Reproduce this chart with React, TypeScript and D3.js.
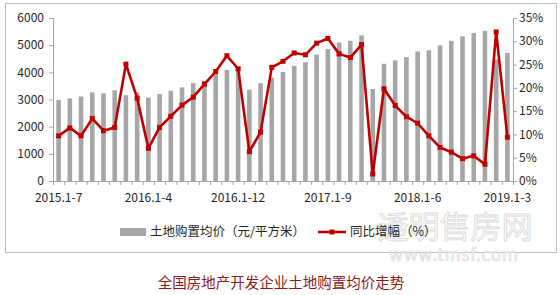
import React from "react";
import * as d3 from "d3";

const categories = [
  "2015.1-7", "2015.1-8", "2015.1-9", "2015.1-10", "2015.1-11", "2015.1-12",
  "2016.1-2", "2016.1-3", "2016.1-4", "2016.1-5", "2016.1-6", "2016.1-7", "2016.1-8", "2016.1-9", "2016.1-10", "2016.1-11", "2016.1-12",
  "2017.1-2", "2017.1-3", "2017.1-4", "2017.1-5", "2017.1-6", "2017.1-7", "2017.1-8", "2017.1-9", "2017.1-10", "2017.1-11", "2017.1-12",
  "2018.1-2", "2018.1-3", "2018.1-4", "2018.1-5", "2018.1-6", "2018.1-7", "2018.1-8", "2018.1-9", "2018.1-10", "2018.1-11", "2018.1-12",
  "2019.1-2", "2019.1-3",
];

const avgPrice = [
  2980, 3040, 3110, 3260, 3230, 3340,
  3160, 3260, 3070, 3200, 3320, 3445, 3600, 3690, 3990, 4090, 4120,
  3360, 3600, 3810, 4010, 4240, 4375, 4650, 4860, 5100, 5160, 5360,
  3385, 4315, 4440, 4560, 4770, 4810, 4990, 5160, 5325, 5445, 5530,
  4470, 4715,
];

const yoyGrowth = [
  9.7, 11.4, 9.7, 13.4, 10.8, 11.5,
  25.1, 17.8, 7.0, 11.5, 13.9, 16.3, 18.0, 20.8, 23.5, 26.9, 24.1,
  6.3, 10.5, 24.4, 25.7, 27.5, 27.1, 29.6, 30.6, 27.3, 26.5, 29.3,
  1.5, 19.8, 16.2, 13.8, 12.4, 9.7, 7.2, 6.2, 4.8, 5.4, 3.6,
  32.0, 9.4,
];

const leftTicks = [0, 1000, 2000, 3000, 4000, 5000, 6000];
const rightTicks = [0, 5, 10, 15, 20, 25, 30, 35];
const shownLabels = ["2015.1-7", "2016.1-4", "2016.1-12", "2017.1-9", "2018.1-6", "2019.1-3"];

const seriesNames = ["土地购置均价（元/平方米）", "同比增幅（%）"];
const title = "全国房地产开发企业土地购置均价走势";

const FONT = "'Noto Sans CJK SC', 'Microsoft YaHei', sans-serif";
const AXIS = "#a6a6a6";
const BAR = "#a6a6a6";
const RED = "#c00000";

export default function App() {
  const left = 53, right = 513, top = 18, bottom = 181;
  const x = d3.scaleBand<string>().domain(categories).range([left, right]).paddingInner(0).paddingOuter(0);
  const yL = d3.scaleLinear().domain([0, 6000]).range([bottom, top]);
  const yR = d3.scaleLinear().domain([0, 35]).range([bottom, top]);
  const bw = 4.6;
  const cx = (c: string) => (x(c) as number) + x.bandwidth() / 2;

  const line = d3
    .line<number>()
    .x((_, i) => cx(categories[i]))
    .y((d) => yR(d));

  const boundaries = d3.range(categories.length + 1).map((i) => left + i * x.bandwidth());

  return (
    <svg
      width={560}
      height={295}
      style={{ position: "absolute", left: 0, top: 0, background: "#fff" }}
      fontFamily={FONT}
    >
      <rect x={5.5} y={3.5} width={551} height={249} fill="none" stroke="#bfbfbf" strokeWidth={1} />

      {/* watermark */}
      <g opacity={0.9}>
        <text x={455} y={238} textAnchor="middle" fontSize={31} fill="#fafafa" stroke="#d6d6d6" strokeWidth={0.8}>
          透明售房网
        </text>
        <text x={454} y={261} textAnchor="middle" fontSize={17} fill="#fafafa" stroke="#d6d6d6" strokeWidth={0.7} letterSpacing={1}>
          www.tmsf.com
        </text>
      </g>

      {/* bars */}
      {avgPrice.map((v, i) => (
        <rect
          key={i}
          x={cx(categories[i]) - bw / 2}
          y={yL(v)}
          width={bw}
          height={bottom - yL(v)}
          fill={BAR}
        />
      ))}

      {/* left axis */}
      <line x1={left + 0.5} x2={left + 0.5} y1={top} y2={bottom} stroke={AXIS} />
      {leftTicks.map((t) => (
        <g key={t}>
          <line x1={left - 4} x2={left} y1={yL(t) + 0.5} y2={yL(t) + 0.5} stroke={AXIS} />
          <text x={44} y={yL(t)} dy="0.35em" textAnchor="end" fontSize={12} fill="#262626">
            {t}
          </text>
        </g>
      ))}

      {/* right axis */}
      <line x1={right + 0.5} x2={right + 0.5} y1={top} y2={bottom} stroke={AXIS} />
      {rightTicks.map((t) => (
        <g key={t}>
          <line x1={right} x2={right + 4} y1={yR(t) + 0.5} y2={yR(t) + 0.5} stroke={AXIS} />
          <text x={519} y={yR(t)} dy="0.35em" textAnchor="start" fontSize={12} fill="#262626">
            {t}%
          </text>
        </g>
      ))}

      {/* x axis */}
      <line x1={left} x2={right} y1={bottom + 0.5} y2={bottom + 0.5} stroke={AXIS} />
      {boundaries.map((b, i) => (
        <line key={i} x1={b + 0.5} x2={b + 0.5} y1={bottom} y2={bottom + 4} stroke={AXIS} />
      ))}
      {shownLabels.map((c) => (
        <text key={c} x={cx(c)} y={198} dy="0.35em" textAnchor="middle" fontSize={12} fill="#262626">
          {c}
        </text>
      ))}

      {/* line series */}
      <path d={line(yoyGrowth) || ""} fill="none" stroke={RED} strokeWidth={2.6} strokeLinejoin="round" />
      {yoyGrowth.map((v, i) => (
        <rect key={i} x={cx(categories[i]) - 2.5} y={yR(v) - 2.5} width={5} height={5} fill={RED} />
      ))}

      {/* legend */}
      <rect x={120} y={228} width={26} height={8} fill={BAR} />
      <text x={150} y={232} dy="0.35em" fontSize={12.5} fill="#262626">
        {seriesNames[0]}
      </text>
      <line x1={318} x2={346} y1={232} y2={232} stroke={RED} strokeWidth={2.6} />
      <rect x={329.5} y={229.5} width={5} height={5} fill={RED} />
      <text x={350} y={232} dy="0.35em" fontSize={12.5} fill="#262626">
        {seriesNames[1]}
      </text>

      {/* title */}
      <text x={281} y={283} dy="0.35em" textAnchor="middle" fontSize={14.5} fill="#8b1a1a">
        {title}
      </text>
    </svg>
  );
}
